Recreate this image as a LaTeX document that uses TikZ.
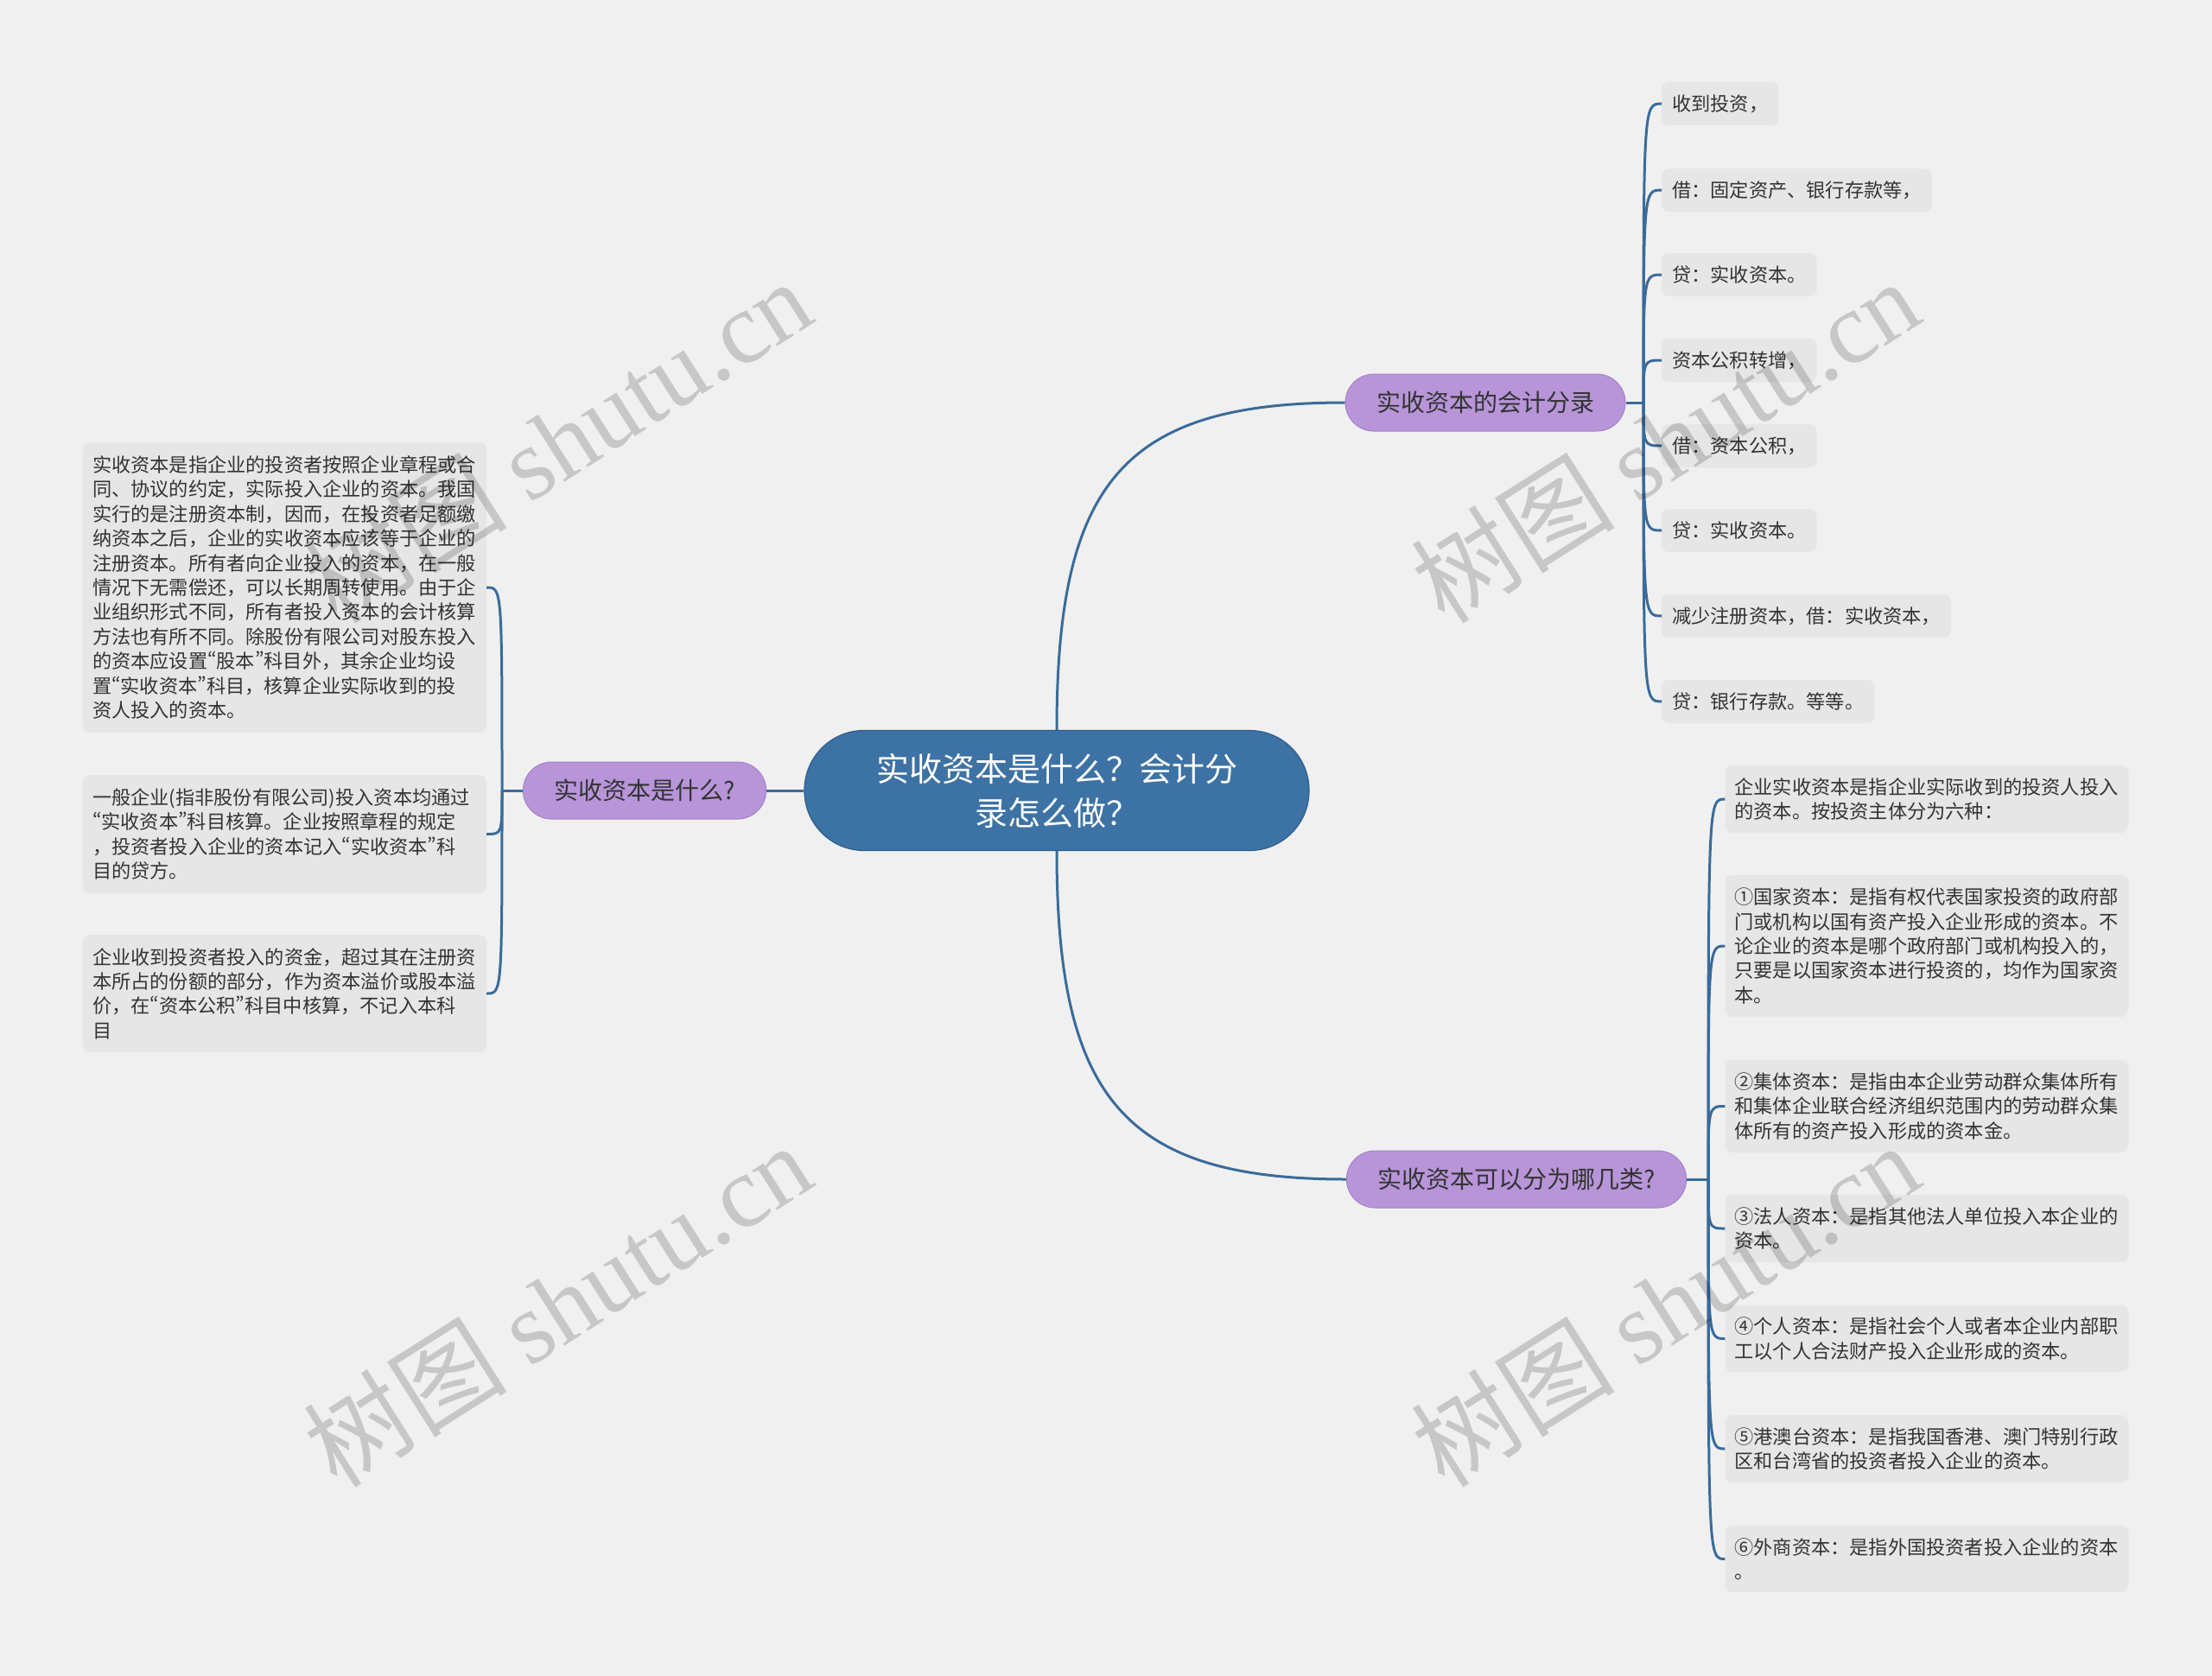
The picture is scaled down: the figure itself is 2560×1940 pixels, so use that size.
\documentclass[tikz,border=0pt]{standalone}
\usepackage{fontspec}
\setmainfont{Noto Sans CJK SC}
\newfontfamily\wmserif{Liberation Serif}
\newfontfamily\qfont[RawFeature=+pwid]{Noto Sans CJK SC}
\newcommand{\myLq}{{\qfont “}}
\newcommand{\myRq}{{\qfont ”}}
\definecolor{bgc}{HTML}{F0F0F0}
\definecolor{leaff}{HTML}{E6E6E6}
\definecolor{purp}{HTML}{B795D8}
\definecolor{purpd}{HTML}{A683C9}
\definecolor{cblue}{HTML}{3D72A4}
\definecolor{cblued}{HTML}{2F5F8F}
\definecolor{linec}{HTML}{3A6B9A}
\definecolor{txt}{HTML}{333333}
\begin{document}
\begin{tikzpicture}[x=1pt,y=-1pt,
  leaf/.style={fill=leaff, rounded corners=8pt, inner xsep=11pt, inner ysep=6pt,
    font=\fontsize{22.2}{28.4}\selectfont, text=txt, align=left},
  wleaf/.style={leaf, text width=445pt},
  sleaf/.style={leaf, anchor=west, minimum height=50pt, inner xsep=12pt},
  branch/.style={fill=purp, draw=purpd, line width=1pt, rounded corners=33pt,
    minimum height=66pt, inner xsep=36pt, font=\fontsize{28}{34}\selectfont, text=txt},
  root/.style={fill=cblue, draw=cblued, line width=1.2pt, rounded corners=69pt,
    minimum width=584pt, minimum height=139pt, font=\fontsize{38}{51}\selectfont,
    text=white, align=center},
  conn/.style={draw=linec, line width=3pt},
  wm/.style={font=\fontsize{118}{118}\selectfont, text=black, text opacity=0.17, rotate=32.4}
]
\fill[bgc] (0,0) rectangle (2560,1940);
\useasboundingbox (0,0) rectangle (2560,1940);

% root and branches
\node[root] (c) at (1223,915) {实收资本是什么？会计分\\录怎么做？};
\node[branch] (b1) at (746,915) {实收资本是什么?};
\node[branch] (b2) at (1719,466) {实收资本的会计分录};
\node[branch] (b3) at (1755,1365) {实收资本可以分为哪几类?};

% left leaves
\node[wleaf, minimum height=336pt] (l1) at (329.5,680) {实收资本是指企业的投资者按照企业章程或合\\同、协议的约定，实际投入企业的资本。我国\\实行的是注册资本制，因而，在投资者足额缴\\纳资本之后，企业的实收资本应该等于企业的\\注册资本。所有者向企业投入的资本，在一般\\情况下无需偿还，可以长期周转使用。由于企\\业组织形式不同，所有者投入资本的会计核算\\方法也有所不同。除股份有限公司对股东投入\\的资本应设置\myLq 股本\myRq 科目外，其余企业均设\\置\myLq 实收资本\myRq 科目，核算企业实际收到的投\\资人投入的资本。};
\node[wleaf, minimum height=137pt] (l2) at (329.5,965.5) {一般企业(指非股份有限公司)投入资本均通过\\\myLq 实收资本\myRq 科目核算。企业按照章程的规定\\，投资者投入企业的资本记入\myLq 实收资本\myRq 科\\目的贷方。};
\node[wleaf, minimum height=136pt] (l3) at (329.5,1150) {企业收到投资者投入的资金，超过其在注册资\\本所占的份额的部分，作为资本溢价或股本溢\\价，在\myLq 资本公积\myRq 科目中核算，不记入本科\\目};

% right top leaves
\node[sleaf] (t1) at (1923,120) {收到投资，};
\node[sleaf] (t2) at (1923,220) {借：固定资产、银行存款等，};
\node[sleaf] (t3) at (1923,318) {贷：实收资本。};
\node[sleaf] (t4) at (1923,417) {资本公积转增，};
\node[sleaf] (t5) at (1923,516) {借：资本公积，};
\node[sleaf] (t6) at (1923,614) {贷：实收资本。};
\node[sleaf] (t7) at (1923,713) {减少注册资本，借：实收资本，};
\node[sleaf] (t8) at (1923,812) {贷：银行存款。等等。};

% right bottom leaves
\node[wleaf, minimum height=78pt] (r1) at (2230,925) {企业实收资本是指企业实际收到的投资人投入\\的资本。按投资主体分为六种：};
\node[wleaf, minimum height=164pt] (r2) at (2230,1095) {①国家资本：是指有权代表国家投资的政府部\\门或机构以国有资产投入企业形成的资本。不\\论企业的资本是哪个政府部门或机构投入的，\\只要是以国家资本进行投资的，均作为国家资\\本。};
\node[wleaf, minimum height=107pt] (r3) at (2230,1280.5) {②集体资本：是指由本企业劳动群众集体所有\\和集体企业联合经济组织范围内的劳动群众集\\体所有的资产投入形成的资本金。};
\node[wleaf, minimum height=78pt] (r4) at (2230,1422) {③法人资本：是指其他法人单位投入本企业的\\资本。};
\node[wleaf, minimum height=77pt] (r5) at (2230,1549.5) {④个人资本：是指社会个人或者本企业内部职\\工以个人合法财产投入企业形成的资本。};
\node[wleaf, minimum height=78pt] (r6) at (2230,1677) {⑤港澳台资本：是指我国香港、澳门特别行政\\区和台湾省的投资者投入企业的资本。};
\node[wleaf, minimum height=77pt] (r7) at (2230,1804.5) {⑥外商资本：是指外国投资者投入企业的资本\\。};

% main connectors
\draw[conn] (c.west) -- (b1.east);
\draw[conn] (c.north) .. controls +(0,-286) and +(-257,0) .. (b2.west);
\draw[conn] (c.south) .. controls +(0,286) and +(-257,0) .. (b3.west);

% junctions
\coordinate (jl) at (581,915);
\coordinate (jt) at (1902,466);
\coordinate (jb) at (1977,1365);
\draw[conn] (b1.west) -- (jl);
\draw[conn] (b2.east) -- (jt);
\draw[conn] (b3.east) -- (jb);

\foreach \n in {l1,l2,l3}{
  \draw[conn] (jl) .. controls (jl |- \n.east) and (jl |- \n.east) .. (\n.east);
}
\foreach \n in {t1,t2,t3,t4,t5,t6,t7,t8}{
  \draw[conn] (jt) .. controls (jt |- \n.west) and (jt |- \n.west) .. (\n.west);
}
\foreach \n in {r1,r2,r3,r4,r5,r6,r7}{
  \draw[conn] (jb) .. controls (jb |- \n.west) and (jb |- \n.west) .. (\n.west);
}

% watermarks
\node[wm] (w1) at (645,510) {树图 {\wmserif shutu.cn}};
\node[wm] (w2) at (1927,510) {树图 {\wmserif shutu.cn}};
\node[wm] (w3) at (645,1510) {树图 {\wmserif shutu.cn}};
\node[wm] (w4) at (1927,1510) {树图 {\wmserif shutu.cn}};
\end{tikzpicture}
\end{document}
